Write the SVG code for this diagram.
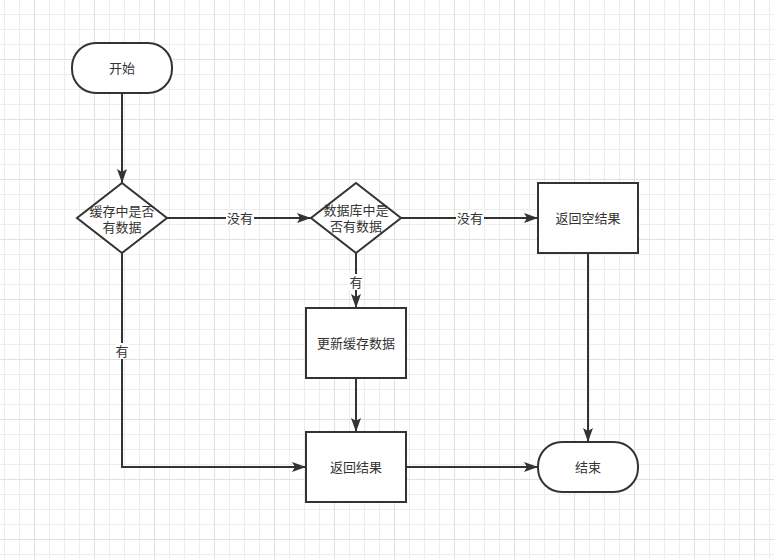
<svg xmlns="http://www.w3.org/2000/svg" width="774" height="559" viewBox="0 0 774 559">
  <defs>
    <pattern id="grid" patternUnits="userSpaceOnUse" x="34" y="59" width="60" height="60">
      <path d="M15.5 0V60M30.5 0V60M45.5 0V60M0 15.5H60M0 30.5H60M0 45.5H60" stroke="#ededed" stroke-width="1" fill="none"/>
      <path d="M0.5 0V60M0 0.5H60" stroke="#e0e0e0" stroke-width="1" fill="none"/>
    </pattern>
    <marker id="arrow" markerUnits="userSpaceOnUse" markerWidth="14" markerHeight="10" refX="14" refY="5" orient="auto" viewBox="0 0 14 10">
      <path d="M0 0L14 5L0 10L3 5Z" fill="#333333"/>
    </marker>
    <style>
      .shape { fill: #ffffff; stroke: #333333; stroke-width: 2; }
      .edge { fill: none; stroke: #333333; stroke-width: 2; }
      .txt { font-family: "Liberation Sans", "Noto Sans CJK SC", sans-serif; font-size: 13px; fill: #333333; text-anchor: middle; dominant-baseline: central; }
      .lblbg { fill: #ffffff; }
    </style>
  </defs>
  <rect width="774" height="559" fill="#ffffff"/>
  <rect width="774" height="559" fill="url(#grid)"/>

  <g id="connectors">
    <path class="edge" d="M122 93V183" marker-end="url(#arrow)"/>
    <path class="edge" d="M167 218H311" marker-end="url(#arrow)"/>
    <path class="edge" d="M401 218H538" marker-end="url(#arrow)"/>
    <path class="edge" d="M356 253V308" marker-end="url(#arrow)"/>
    <path class="edge" d="M356 378V432" marker-end="url(#arrow)"/>
    <path class="edge" d="M122 253V467H306" marker-end="url(#arrow)"/>
    <path class="edge" d="M406 467H538" marker-end="url(#arrow)"/>
    <path class="edge" d="M588 253V442" marker-end="url(#arrow)"/>
    <g id="edge-labels">
      <rect class="lblbg" x="226" y="210" width="28" height="16"/>
      <text class="txt" x="240" y="218">没有</text>
      <rect class="lblbg" x="456" y="210" width="28" height="16"/>
      <text class="txt" x="470" y="218">没有</text>
      <rect class="lblbg" x="349" y="274" width="14" height="16"/>
      <text class="txt" x="356" y="282">有</text>
      <rect class="lblbg" x="115" y="343" width="14" height="16"/>
      <text class="txt" x="122" y="351">有</text>
    </g>
  </g>

  <g id="start">
    <rect class="shape" x="72" y="43" width="100" height="50" rx="24" ry="24"/>
    <text class="txt" x="122" y="68">开始</text>
  </g>
  <g id="check-cache">
    <path class="shape" d="M122 183L167 218L122 253L77 218Z"/>
    <text class="txt" x="122" y="211"><tspan x="122" y="211">缓存中是否</tspan><tspan x="122" y="227">有数据</tspan></text>
  </g>
  <g id="check-db">
    <path class="shape" d="M356 183L401 218L356 253L311 218Z"/>
    <text class="txt" x="356" y="210"><tspan x="356" y="210">数据库中是</tspan><tspan x="356" y="226">否有数据</tspan></text>
  </g>
  <g id="return-empty">
    <rect class="shape" x="538" y="183" width="100" height="70"/>
    <text class="txt" x="588" y="218">返回空结果</text>
  </g>
  <g id="update-cache">
    <rect class="shape" x="306" y="308" width="100" height="70"/>
    <text class="txt" x="356" y="343">更新缓存数据</text>
  </g>
  <g id="return-result">
    <rect class="shape" x="306" y="432" width="100" height="70"/>
    <text class="txt" x="356" y="467">返回结果</text>
  </g>
  <g id="end">
    <rect class="shape" x="538" y="442" width="100" height="50" rx="24" ry="24"/>
    <text class="txt" x="588" y="467">结束</text>
  </g>
</svg>
